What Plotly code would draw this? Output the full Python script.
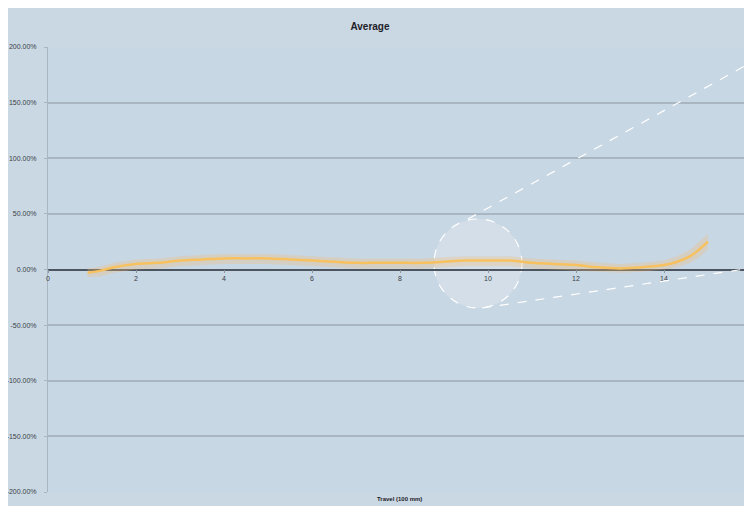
import plotly.graph_objects as go

# Data
travel = [0.9, 1.2, 1.5, 2.0, 2.5, 3.0, 3.5, 4.0, 4.5, 5.0, 5.5, 6.0, 6.5, 7.0, 7.5, 8.0, 8.5,
          9.0, 9.5, 10.0, 10.5, 11.0, 11.5, 12.0, 12.5, 13.0, 13.5, 14.0, 14.3, 14.6, 14.8, 15.0]
average = [-3, -1, 2, 5, 6, 8, 9, 10, 10, 10, 9, 8, 7, 6, 6, 6, 6,
           7, 8, 8, 8, 6, 5, 4, 2, 1, 2, 4, 7, 12, 18, 25]
upper = [1, 3, 6, 9, 10, 12, 13, 14, 14, 14, 13, 12, 11, 10, 10, 10, 10,
         11, 12, 12, 12, 10, 9, 8, 6, 5, 6, 8, 12, 18, 25, 32]
lower = [-7, -6, -3, 0, 1, 3, 4, 5, 5, 5, 4, 3, 2, 1, 1, 1, 1,
         2, 3, 3, 3, 1, 0, -1, -2, -3, -2, 0, 2, 6, 11, 18]

y_ticks = [200, 150, 100, 50, 0, -50, -100, -150, -200]
y_labels = ["200.00%", "150.00%", "100.00%", "50.00%", "0.00%",
            "-50.00%", "-100.00%", "-150.00%", "-200.00%"]
x_ticks = [0, 2, 4, 6, 8, 10, 12, 14, 16]

fig = go.Figure()
fig.add_trace(go.Scatter(x=travel, y=upper, mode="lines", line=dict(width=0),
                         hoverinfo="skip", showlegend=False))
fig.add_trace(go.Scatter(x=travel, y=lower, mode="lines", line=dict(width=0),
                         fill="tonexty", fillcolor="rgba(245,190,120,0.30)",
                         hoverinfo="skip", showlegend=False))
fig.add_trace(go.Scatter(x=travel, y=average, mode="lines",
                         line=dict(color="#f6c15e", width=2.5, shape="spline"),
                         showlegend=False, name="Average"))

# page is drawn with an 8px body offset; work in page pixels
OFF = 8
W, H = 752 - OFF, 506 - OFF
PL, PR, PT, PB = 48, 752, 47, 492      # plot area in page pixels
L, R, T, B = PL - OFF, 0, PT - OFF, H - (PB - OFF)
pw, ph = PR - PL, PB - PT

def px(x):
    return (x - PL) / pw

def py(y):
    return (PB - y) / ph

shapes = [
    dict(type="circle", xref="paper", yref="paper",
         x0=px(434), x1=px(522), y0=py(308), y1=py(219),
         fillcolor="#d3dee8",
         line=dict(color="white", width=1.2, dash="dash"), layer="between"),
    dict(type="line", xref="paper", yref="paper",
         x0=px(468), y0=py(219), x1=px(752), y1=py(62),
         line=dict(color="white", width=1.2, dash="dash"), layer="above"),
    dict(type="line", xref="paper", yref="paper",
         x0=px(482), y0=py(308), x1=px(752), y1=py(268),
         line=dict(color="white", width=1.2, dash="dash"), layer="above"),
]

fig.update_layout(
    width=W, height=H,
    margin=dict(l=L, r=R, t=T, b=B),
    paper_bgcolor="#cad8e4",
    plot_bgcolor="#c8d7e4",
    font=dict(family="Liberation Sans, Arial, sans-serif", color="#3a3f46", size=7),
    title=dict(text="<b>Average</b>", x=(370 - OFF) / W, xanchor="center",
               y=1 - (26 - OFF) / H, yanchor="middle", font=dict(size=10, color="#1e2228")),
    xaxis=dict(range=[0, 16], tickvals=x_ticks, ticktext=[str(v) for v in x_ticks],
               showgrid=False, zeroline=False, showline=False,
               anchor="free", position=py(269),
               ticks="outside", ticklen=3, tickcolor="#8c96a0",
               tickfont=dict(size=7, color="#3a3f46")),
    yaxis=dict(range=[-200, 200], tickvals=y_ticks, ticktext=y_labels,
               showgrid=True, gridcolor="#a9b6c2", gridwidth=1.5,
               zeroline=True, zerolinecolor="#4d5660", zerolinewidth=2,
               showline=True, linecolor="#a9b6c2", linewidth=1,
               ticks="outside", ticklen=3, tickcolor="#a9b6c2",
               ticklabelstandoff=6,
               tickfont=dict(size=7, color="#3a3f46")),
    shapes=shapes,
    annotations=[dict(text="<b>Travel (100 mm)</b>", xref="paper", yref="paper",
                      x=px(399), y=py(499), xanchor="center", yanchor="middle",
                      showarrow=False, font=dict(size=6, color="#1e2228"))],
)

fig.write_html("out.html")
